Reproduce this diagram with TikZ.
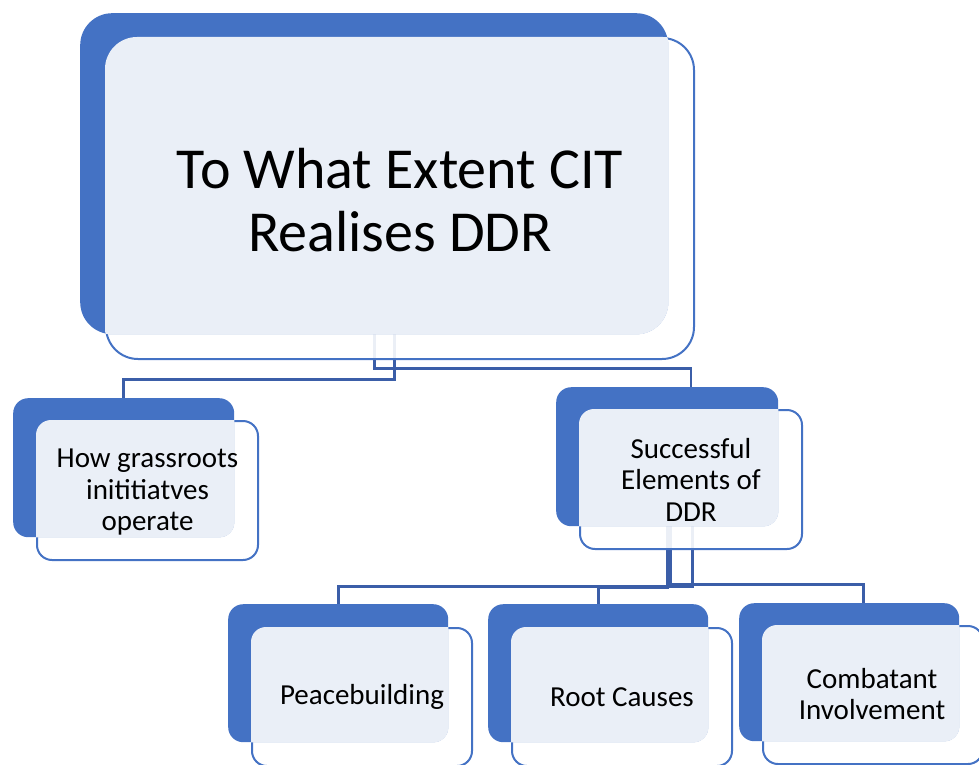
\documentclass[tikz,border=0pt]{standalone}
\usepackage{fontspec}
\setmainfont{Carlito}
\usetikzlibrary{calc}
\definecolor{boxblue}{RGB}{68,114,196}
\definecolor{lightfill}{RGB}{234,239,247}
\definecolor{connblue}{RGB}{59,94,168}
\pgfdeclarelayer{bg}
\pgfsetlayers{bg,main}
\newcommand\stackedbox[8]{%
  \node[frontbox=#8, minimum width=#6pt, minimum height=#7pt] (#1f) at (#2+#4,#3+#5) {};
  \node[backbox=#8, minimum width=#6pt, minimum height=#7pt] (#1b) at (#2,#3) {};
  \begin{scope}
    \clip[rounded corners=#8pt] (#1f.south west) rectangle (#1f.north east);
    \fill[lightfill, rounded corners=#8pt] (#1b.south west) rectangle (#1b.north east);
  \end{scope}
}
\begin{document}
\begin{tikzpicture}[x=1pt,y=-1pt,
  frontbox/.style={draw=boxblue, line width=2pt, fill=white, fill opacity=0.9, draw opacity=1,
    rounded corners=#1pt, inner sep=0pt, anchor=north west},
  backbox/.style={fill=boxblue, draw=none, rounded corners=#1pt, inner sep=0pt, anchor=north west},
  bigtext/.style={align=center, font=\fontsize{58}{63}\selectfont, text=black, inner sep=0pt},
  smalltext/.style={align=center, font=\fontsize{29}{31.5}\selectfont, text=black, inner sep=0pt},
  conn/.style={draw=connblue, line width=2.8pt}
]
\useasboundingbox (0,0) rectangle (979,765);

\stackedbox{main}{80}{13}{25}{24}{588}{321}{32}
\stackedbox{left}{13}{398}{23}{22}{221}{139}{15}
\stackedbox{right}{556}{387}{23}{22}{222}{139}{15}
\stackedbox{peace}{228}{604}{23}{23}{220}{138}{15}
\stackedbox{root}{488}{604}{23}{23}{220}{138}{15}
\stackedbox{comb}{739}{603}{23}{22}{220}{138}{15}

\node[bigtext] (maint) at ($(mainf.center)+(0,2)$) {To What Extent CIT\\Realises DDR};
\node[smalltext] (leftt) at ($(leftf.center)+(0,2)$) {How grassroots\\inititiatves\\operate};
\node[smalltext] (rightt) at (rightf.center) {Successful\\Elements of\\DDR};
\node[smalltext] (peacet) at (peacef.center) {Peacebuilding};
\node[smalltext] (roott) at (rootf.center) {Root Causes};
\node[smalltext] (combt) at ($(combf.center)+(-1,-1)$) {Combatant\\Involvement};

\begin{pgfonlayer}{bg}
  \draw[conn] (mainb.south) -- ++(0,34) -| (rightf.north);
  \draw[conn] ($(mainb.south)+(20,0)$) -- ++(0,45) -| (leftb.north);
  \draw[conn] ($(rightb.south)+(25,0)$) -- ++(0,60) -| (peaceb.north);
  \draw[conn] (rightb.south) -- ++(0,61) -| (rootb.north);
  \draw[conn] ($(rightb.south)+(3,0)$) -- ++(0,58) -| ($(combb.north)+(14,0)$);
\end{pgfonlayer}
\end{tikzpicture}
\end{document}
